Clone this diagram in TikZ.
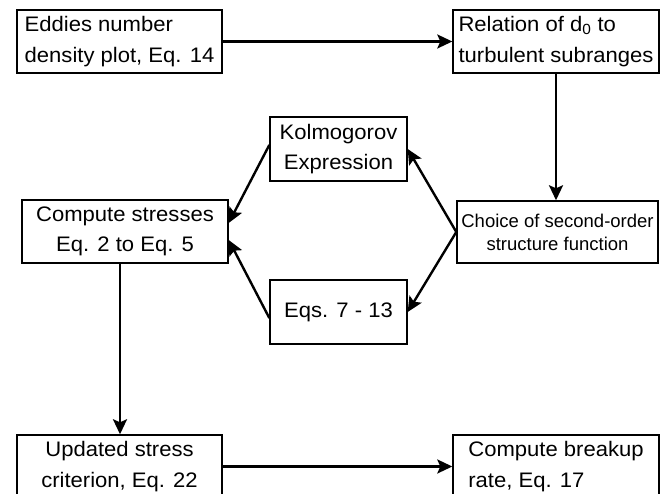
\documentclass[tikz,border=0pt]{standalone}
\usepackage{fontspec}
\setmainfont{Liberation Sans}[FakeStretch=1.05]
\newfontfamily\narrowfont{Liberation Sans}
\usetikzlibrary{arrows.meta}

\begin{document}
\begin{tikzpicture}[x=1pt,y=1pt,
	box/.style={draw, line width=1.4pt, minimum height=63pt, inner sep=0pt,
		font=\fontsize{21}{30.5}\selectfont},
	flow/.style={line width=2.4pt, -{Stealth[length=15pt,width=14pt,inset=3pt]}}]
	\useasboundingbox (0,0) rectangle (668,494);

	\node[box, minimum width=205pt, align=left] (eddies) at (119.5,452.5) {Eddies number\\density plot, Eq. 14};
	\node[box, minimum width=206pt, align=left] (relation) at (556,452.5) {Relation of d\textsubscript{0} to\\turbulent subranges};
	\node[box, minimum width=137pt, minimum height=64pt, align=center] (kolmo) at (338.5,345) {Kolmogorov\\Expression};
	\node[box, minimum width=206pt, align=center] (stresses) at (125,262.5) {Compute stresses\\Eq. 2 to Eq. 5};
	\node[box, minimum width=201pt, minimum height=62pt, align=center,
		font=\narrowfont\fontsize{18.5}{23}\selectfont] (choice) at (557.5,262) {Choice of second-order\\structure function};
	\node[box, minimum width=137pt, minimum height=64pt, align=center] (eqs) at (338.5,182) {Eqs. 7 - 13};
	\node[box, minimum width=205pt, align=center] (updated) at (119.5,27.5) {Updated stress\\criterion, Eq. 22};
	\node[box, minimum width=206pt, align=left] (breakup) at (556,27.5) {Compute breakup\\rate, Eq. 17};

	\draw[flow] (eddies) -- (relation);
	\draw[flow] (relation) -- (relation |- choice.north);
	\draw[flow] (choice.west) -- (kolmo.east);
	\draw[flow] (choice.west) -- (eqs.east);
	\draw[flow] ([yshift=4pt]kolmo.west) -- ([yshift=8.5pt]stresses.east);
	\draw[flow] ([yshift=-6pt]eqs.west) -- ([yshift=-8.5pt]stresses.east);
	\draw[flow] ([xshift=-5pt]stresses.south) -- ([xshift=-5pt]stresses.south |- updated.north);
	\draw[flow] (updated) -- (breakup);

\end{tikzpicture}
\end{document}
